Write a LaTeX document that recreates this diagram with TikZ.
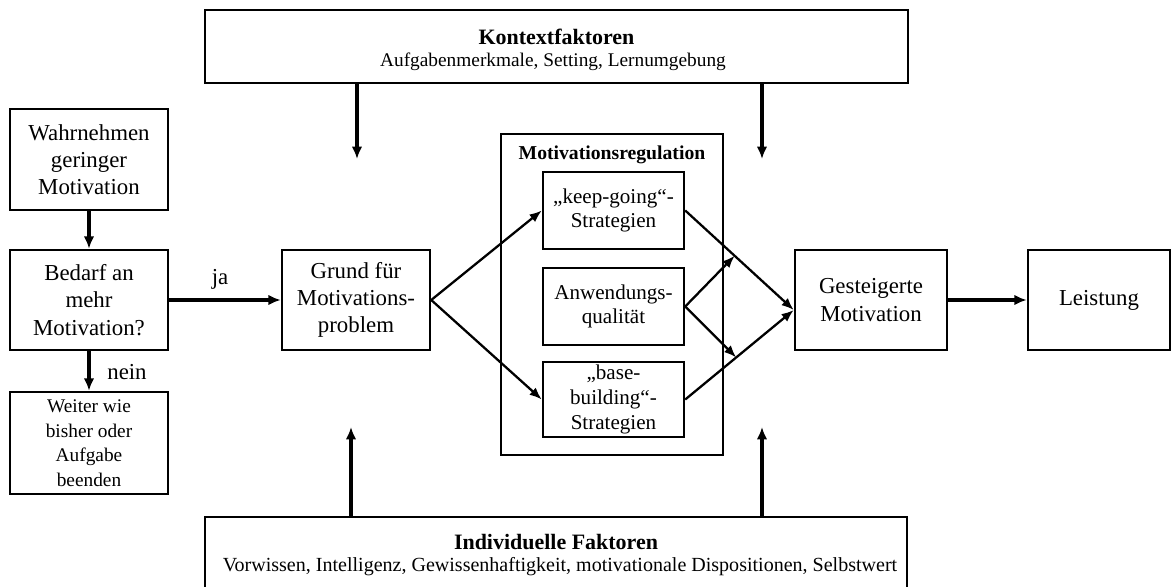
\documentclass[tikz,border=0pt]{standalone}
\usepackage{fontspec}
\setmainfont{Liberation Serif}
\usetikzlibrary{arrows.meta,calc}
\newcommand\pxu{0.02cm}
\begin{document}
\begin{tikzpicture}[x=0.02cm,y=-0.02cm,
  box/.style={draw,line width=1.4pt,inner sep=0pt,align=center,
    font=\fontsize{13}{15.5}\selectfont},
  inbox/.style={box,font=\fontsize{12}{14}\selectfont},
  frame/.style={draw,line width=1.6pt,inner sep=0pt},
  title/.style={anchor=base,inner sep=0pt,font=\bfseries\fontsize{12.5}{15}\selectfont},
  subtitle/.style={anchor=base,inner sep=0pt,font=\fontsize{11}{13}\selectfont},
  lbl/.style={inner sep=0pt,font=\fontsize{13}{15.5}\selectfont},
  arr/.style={line width=2pt,-{Latex[length=7pt,width=6pt]}},
  thinarr/.style={line width=1.3pt,-{Latex[length=7pt,width=5.5pt]}},
  ]
\useasboundingbox (0,0) rectangle (1171,587);

% context factors (top) and individual factors (bottom)
\node[frame,minimum width=703*\pxu,minimum height=73*\pxu] (kontext) at (556.5,46.5) {};
\node[title] (kontexttitle) at (556.5,45) {Kontextfaktoren};
\node[subtitle] (kontextsub) at (553,67) {Aufgabenmerkmale, Setting, Lernumgebung};

\node[frame,minimum width=702*\pxu,minimum height=80*\pxu] (indiv) at (556,557) {};
\node[title] (indivtitle) at (556,550) {Individuelle Faktoren};
\node[subtitle,font=\fontsize{11.4}{13}\selectfont] (indivsub) at (560,572) {Vorwissen, Intelligenz, Gewissenhaftigkeit, motivationale Dispositionen, Selbstwert};

% left column
\node[box,minimum width=158*\pxu,minimum height=101*\pxu] (wahr) at (89,159.5)
  {Wahrnehmen\\geringer\\Motivation};
\node[box,minimum width=158*\pxu,minimum height=100*\pxu] (bedarf) at (89,300)
  {Bedarf an\\mehr\\Motivation?};
\node[box,font=\fontsize{11}{14}\selectfont,minimum width=158*\pxu,minimum height=102*\pxu] (weiter) at (89,443)
  {Weiter wie\\bisher oder\\Aufgabe\\beenden};

% main chain
\node[box,minimum width=148*\pxu,minimum height=100*\pxu] (grund) at (356,300)
  {Grund für\\Motivations-\\problem};
\node[box,minimum width=222*\pxu,minimum height=321*\pxu] (motreg) at (612,294.5) {};
\node[inner sep=0pt,font=\bfseries\fontsize{11.2}{13}\selectfont] (motregtitle) at (612,155) {Motivationsregulation};
\node[inbox,minimum width=141*\pxu,minimum height=77*\pxu] (keep) at (613.5,210.5)
  {„keep-going“-\\Strategien};
\node[inbox,minimum width=141*\pxu,minimum height=77*\pxu] (anw) at (613.5,306.5)
  {Anwendungs-\\qualität};
\node[inbox,minimum width=141*\pxu,minimum height=75*\pxu] (base) at (613.5,399.5)
  {„base-\\building“-\\Strategien};
\node[box,minimum width=152*\pxu,minimum height=100*\pxu] (gest) at (871,300)
  {Gesteigerte\\Motivation};
\node[box,minimum width=142*\pxu,minimum height=100*\pxu] (leist) at (1099,300)
  {Leistung};

% arrow end points of the influence arrows
\coordinate (k1) at (357,159);
\coordinate (k2) at (762,159);
\coordinate (i1) at (351,427);
\coordinate (i2) at (762,427);
\coordinate (conv) at ($(gest.west)+(0,10)$);

\draw[arr] (kontext.south -| k1) -- (k1);
\draw[arr] (kontext.south -| k2) -- (k2);
\draw[arr] (indiv.north -| i1) -- (i1);
\draw[arr] (indiv.north -| i2) -- (i2);

\draw[arr] (wahr) -- (bedarf);
\draw[arr] (bedarf) -- (weiter);
\node[lbl] (nein) at (127,372) {nein};
\draw[arr] (bedarf.east) -- (grund.west);
\node[lbl] (ja) at (220,279) {ja};

\draw[thinarr] (grund.east) -- (keep.west);
\draw[thinarr] (grund.east) -- (base.west);
\draw[thinarr] (keep.east) -- (conv);
\draw[thinarr] (base.east) -- (conv);
\draw[thinarr] (anw.east) -- ($(keep.east)!0.455!(conv)$);
\draw[thinarr] (anw.east) -- ($(base.east)!0.47!(conv)$);

\draw[arr] (gest) -- (leist);
\end{tikzpicture}
\end{document}
